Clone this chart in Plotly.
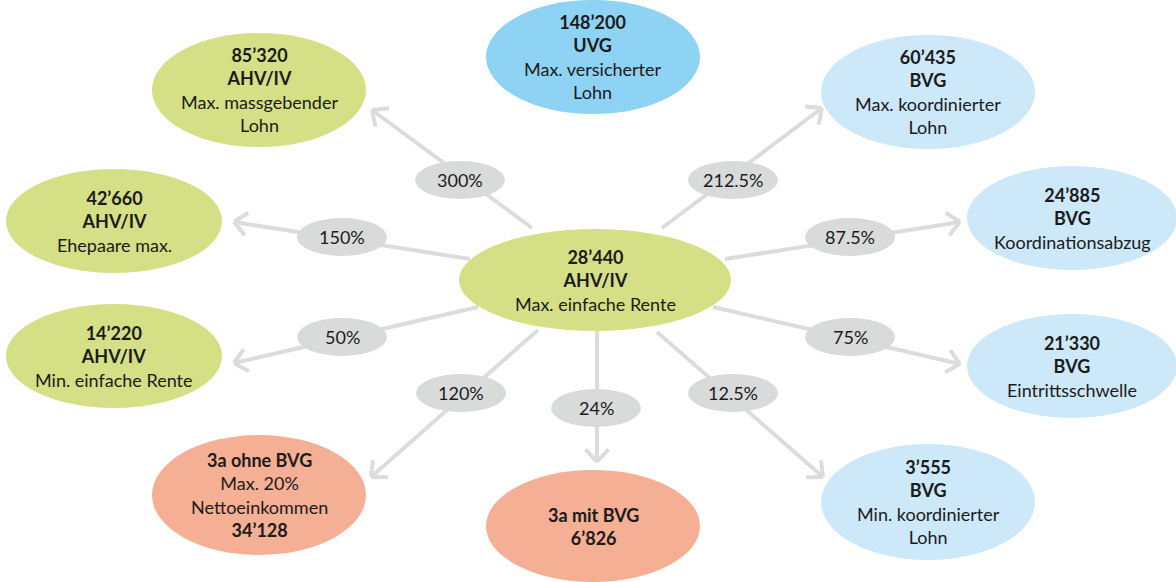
import math
import plotly.graph_objects as go

# ---------------- data ----------------
center_amount = "28’440"
center_scheme = "AHV/IV"
center_desc = "Max. einfache Rente"

amounts = ["85’320", "148’200", "60’435", "42’660", "24’885",
           "14’220", "21’330", "34’128", "6’826", "3’555"]
schemes = ["AHV/IV", "UVG", "BVG", "AHV/IV", "BVG",
           "AHV/IV", "BVG", "3a ohne BVG", "3a mit BVG", "BVG"]
descriptions = [["Max. massgebender", "Lohn"], ["Max. versicherter", "Lohn"],
                ["Max. koordinierter", "Lohn"], ["Ehepaare max."],
                ["Koordinationsabzug"], ["Min. einfache Rente"],
                ["Eintrittsschwelle"], ["Max. 20%", "Nettoeinkommen"], [],
                ["Min. koordinierter", "Lohn"]]
percentages = ["300%", None, "212.5%", "150%", "87.5%",
               "50%", "75%", "120%", "24%", "12.5%"]

# ---------------- layout / style ----------------
W, H = 1176, 582
GREEN, BLUE, LBLUE, SALMON = "#d4df86", "#8ed2f4", "#cce8f9", "#f4af94"
node_colors = [GREEN, BLUE, LBLUE, GREEN, LBLUE, GREEN, LBLUE, SALMON, SALMON, LBLUE]
# node ellipse centre and radii (px)
node_geom = [(259, 90, 107, 57), (593, 57, 107, 57), (928, 92, 107, 57),
             (114, 221, 108, 52), (1072, 218, 105, 52), (114, 356, 108, 52),
             (1072, 366, 105, 52), (259, 495, 107, 60), (593, 526, 107, 56),
             (928, 502, 107, 58)]
center_geom = (595, 280, 136, 51)
# arrow start, arrow tip, label centre
arrow_geom = [((532, 228), (372, 110), (460, 180)), None,
              ((662, 228), (822, 108), (733, 180)),
              ((470, 259), (234, 222), (342, 237)),
              ((725, 259), (960, 222), (850, 237)),
              ((478, 307), (234, 363), (342, 337)),
              ((713, 307), (960, 364), (850, 337)),
              ((538, 330), (371, 477), (461, 393)),
              ((597, 330), (597, 462), (596, 408)),
              ((657, 332), (823, 477), (733, 393))]
LINE = "#dcdcdc"
LABEL_BG = "#d9dada"
FONT = "Lato"
FS = 18
TXT = "#1b1b1b"

shapes, annotations = [], []


def ellipse(cx, cy, rx, ry, color):
    return dict(type="circle", xref="x", yref="y", x0=cx - rx, x1=cx + rx,
                y0=cy - ry, y1=cy + ry, fillcolor=color, line=dict(width=0),
                layer="above")


def seg(p, q, width=4):
    return dict(type="line", xref="x", yref="y", x0=p[0], y0=p[1], x1=q[0],
                y1=q[1], line=dict(color=LINE, width=width), layer="above")


# arrows
for g in arrow_geom:
    if g is None:
        continue
    s, t, _ = g
    shapes.append(seg(s, t))
    dx, dy = s[0] - t[0], s[1] - t[1]
    L = math.hypot(dx, dy)
    ux, uy = dx / L, dy / L
    for ang in (math.radians(42), -math.radians(42)):
        ax = ux * math.cos(ang) - uy * math.sin(ang)
        ay = ux * math.sin(ang) + uy * math.cos(ang)
        shapes.append(seg(t, (t[0] + 17 * ax, t[1] + 17 * ay)))

# percentage labels
for g, pct in zip(arrow_geom, percentages):
    if g is None or pct is None:
        continue
    lx, ly = g[2]
    shapes.append(ellipse(lx, ly, 45, 19, LABEL_BG))
    annotations.append(dict(x=lx, y=ly, xref="x", yref="y", text=pct,
                            showarrow=False, font=dict(family=FONT, size=FS, color=TXT)))

# centre node
cx, cy, rx, ry = center_geom
shapes.append(ellipse(cx, cy, rx, ry, GREEN))
annotations.append(dict(x=cx, y=cy, xref="x", yref="y", showarrow=False,
                        text=f"<b>{center_amount}</b><br><b>{center_scheme}</b><br>{center_desc}",
                        font=dict(family=FONT, size=FS, color=TXT)))

# outer nodes
for amt, sch, desc, col, geo in zip(amounts, schemes, descriptions, node_colors, node_geom):
    x, y, a, b = geo
    shapes.append(ellipse(x, y, a, b, col))
    if sch.startswith("3a"):
        lines = [f"<b>{sch}</b>"] + desc + [f"<b>{amt}</b>"]
    else:
        lines = [f"<b>{amt}</b>", f"<b>{sch}</b>"] + desc
    annotations.append(dict(x=x, y=y, xref="x", yref="y", showarrow=False,
                            text="<br>".join(lines),
                            font=dict(family=FONT, size=FS, color=TXT)))

fig = go.Figure()
fig.update_layout(
    width=W, height=H, margin=dict(l=0, r=0, t=0, b=0),
    paper_bgcolor="white", plot_bgcolor="white",
    xaxis=dict(range=[0, W], visible=False, fixedrange=True),
    yaxis=dict(range=[H, 0], visible=False, fixedrange=True),
    shapes=shapes, annotations=annotations, showlegend=False,
)
fig.write_html("out.html", config={"displayModeBar": False},
               post_script="document.body.style.margin='0';document.body.style.overflow='hidden';")
